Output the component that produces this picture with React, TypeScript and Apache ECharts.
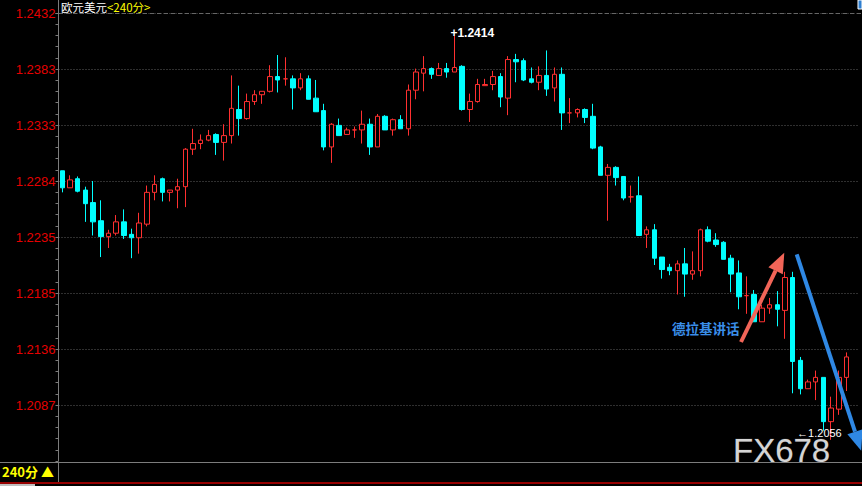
import React, { useEffect, useRef } from "react";
import * as echarts from "echarts";

// OHLC of each 240-minute EUR/USD candle
const opens = [
  1.2293, 1.2278, 1.2286, 1.2276, 1.2265, 1.2249, 1.2235, 1.2238, 1.2248, 1.2237,
  1.2234, 1.2246, 1.2274, 1.2286, 1.2274, 1.2276, 1.2279, 1.2312, 1.2317, 1.2320,
  1.2325, 1.2318, 1.2324, 1.2347, 1.2339, 1.2354, 1.2360, 1.2363, 1.2376, 1.2374,
  1.2374, 1.2366, 1.2374, 1.2357, 1.2346, 1.2314, 1.2333, 1.2325, 1.2329, 1.2329,
  1.2334, 1.2314, 1.2341, 1.2329, 1.2338, 1.2330, 1.2364, 1.2379, 1.2383, 1.2377,
  1.2383, 1.2380, 1.2385, 1.2347, 1.2354, 1.2368, 1.2369, 1.2376, 1.2357, 1.2391,
  1.2390, 1.2374, 1.2371, 1.2377, 1.2366, 1.2378, 1.2344, 1.2344, 1.2347, 1.2341,
  1.2314, 1.2289, 1.2296, 1.2288, 1.2270, 1.2271, 1.2237, 1.2241, 1.2217, 1.2208,
  1.2205, 1.2211, 1.2202, 1.2205, 1.2241, 1.2232, 1.2230, 1.2216, 1.2203, 1.2183,
  1.2184, 1.2160, 1.2172, 1.2175, 1.2170, 1.2199, 1.2126, 1.2101, 1.2107, 1.2111,
  1.2072, 1.2083, 1.2111,
];
const closes = [
  1.2278, 1.2285, 1.2275, 1.2264, 1.2248, 1.2235, 1.2238, 1.2248, 1.2236, 1.2234,
  1.2247, 1.2274, 1.2281, 1.2274, 1.2276, 1.2279, 1.2312, 1.2317, 1.2320, 1.2324,
  1.2318, 1.2324, 1.2348, 1.2339, 1.2354, 1.2360, 1.2363, 1.2376, 1.2373, 1.2374,
  1.2366, 1.2374, 1.2356, 1.2345, 1.2314, 1.2334, 1.2324, 1.2329, 1.2329, 1.2334,
  1.2314, 1.2341, 1.2329, 1.2338, 1.2330, 1.2364, 1.2380, 1.2383, 1.2378, 1.2383,
  1.2380, 1.2384, 1.2347, 1.2354, 1.2369, 1.2369, 1.2376, 1.2358, 1.2391, 1.2389,
  1.2373, 1.2371, 1.2377, 1.2365, 1.2378, 1.2344, 1.2344, 1.2347, 1.2340, 1.2313,
  1.2289, 1.2296, 1.2287, 1.2269, 1.2270, 1.2236, 1.2241, 1.2216, 1.2206, 1.2205,
  1.2211, 1.2202, 1.2205, 1.2241, 1.2231, 1.2228, 1.2215, 1.2202, 1.2182, 1.2183,
  1.2160, 1.2172, 1.2175, 1.2171, 1.2199, 1.2125, 1.2101, 1.2107, 1.2111, 1.2072,
  1.2084, 1.2111, 1.2129,
];
const lows = [
  1.2274, 1.2278, 1.2274, 1.2248, 1.2236, 1.2217, 1.2225, 1.2236, 1.2233, 1.2216,
  1.2220, 1.2244, 1.2267, 1.2266, 1.2266, 1.2260, 1.2261, 1.2307, 1.2312, 1.2319,
  1.2307, 1.2302, 1.2317, 1.2324, 1.2338, 1.2351, 1.2352, 1.2362, 1.2362, 1.2368,
  1.2347, 1.2364, 1.2356, 1.2345, 1.2311, 1.2300, 1.2324, 1.2325, 1.2322, 1.2317,
  1.2307, 1.2314, 1.2329, 1.2324, 1.2330, 1.2324, 1.2356, 1.2363, 1.2374, 1.2377,
  1.2375, 1.2380, 1.2346, 1.2336, 1.2353, 1.2368, 1.2364, 1.2349, 1.2342, 1.2371,
  1.2372, 1.2370, 1.2364, 1.2359, 1.2354, 1.2329, 1.2335, 1.2340, 1.2335, 1.2312,
  1.2289, 1.2249, 1.2280, 1.2267, 1.2265, 1.2236, 1.2225, 1.2210, 1.2198, 1.2201,
  1.2184, 1.2182, 1.2197, 1.2200, 1.2230, 1.2226, 1.2215, 1.2186, 1.2171, 1.2167,
  1.2160, 1.2160, 1.2167, 1.2156, 1.2145, 1.2097, 1.2096, 1.2101, 1.2091, 1.2064,
  1.2056, 1.2078, 1.2099,
];
const highs = [
  1.2293, 1.2289, 1.2288, 1.2279, 1.2284, 1.2267, 1.2241, 1.2254, 1.2259, 1.2242,
  1.2256, 1.2280, 1.2289, 1.2287, 1.2276, 1.2286, 1.2313, 1.2330, 1.2325, 1.2329,
  1.2326, 1.2334, 1.2377, 1.2368, 1.2361, 1.2364, 1.2363, 1.2386, 1.2395, 1.2393,
  1.2377, 1.2379, 1.2377, 1.2373, 1.2352, 1.2335, 1.2339, 1.2331, 1.2332, 1.2346,
  1.2339, 1.2343, 1.2342, 1.2339, 1.2342, 1.2369, 1.2383, 1.2394, 1.2384, 1.2388,
  1.2388, 1.2414, 1.2386, 1.2361, 1.2374, 1.2374, 1.2381, 1.2379, 1.2394, 1.2396,
  1.2392, 1.2384, 1.2385, 1.2399, 1.2384, 1.2384, 1.2357, 1.2348, 1.2348, 1.2352,
  1.2315, 1.2299, 1.2297, 1.2288, 1.2280, 1.2288, 1.2244, 1.2246, 1.2217, 1.2211,
  1.2214, 1.2225, 1.2222, 1.2242, 1.2244, 1.2238, 1.2231, 1.2219, 1.2214, 1.2200,
  1.2188, 1.2175, 1.2181, 1.2187, 1.2204, 1.2204, 1.2129, 1.2109, 1.2117, 1.2111,
  1.2094, 1.2117, 1.2133,
];
// one empty slot is left after the last candle
const categories = [...opens.map((_, i) => String(i + 1)), ""];

// price axis: the top line is 1.2432 and the lines are 1/252 of it apart
const yTop = 1.2432;
const yStep = yTop / 252;
const yBottom = yStep * 244;

const RED = "#ff3030";
const CYAN = "#00ffff";

export default function App() {
  const ref = useRef<HTMLDivElement>(null);

  useEffect(() => {
    document.body.style.margin = "0";
    document.body.style.background = "#000";
    const chart = echarts.init(ref.current!, null, { renderer: "svg" });

    const data = opens.map((o, i) => [o, closes[i], lows[i], highs[i]]);
    const hiVal = Math.max(...highs);
    const hiIdx = highs.indexOf(hiVal);
    const loVal = Math.min(...lows);
    const loIdx = lows.indexOf(loVal);

    chart.setOption({
      animation: false,
      backgroundColor: "#000000",
      grid: { left: 58.5, right: 4, top: 13, bottom: 25, containLabel: false },
      xAxis: {
        type: "category",
        data: categories,
        boundaryGap: true,
        show: false,
      },
      yAxis: {
        type: "value",
        min: yBottom,
        max: yTop,
        interval: yStep,
        position: "left",
        axisLine: { show: true, lineStyle: { color: "#7c7c7c", width: 1 } },
        axisTick: { show: true, length: 3, lineStyle: { color: "#7c7c7c" } },
        minorTick: { show: true, splitNumber: 5, length: 3, lineStyle: { color: "#7c7c7c" } },
        splitLine: {
          show: true,
          showMinLine: false,
          showMaxLine: false,
          lineStyle: { color: "#5e5e5e", type: [1, 2], width: 1 },
        },
        axisLabel: {
          color: "#e60000",
          fontSize: 13,
          fontFamily: "Liberation Sans, Arial, sans-serif",
          margin: 3,
          showMinLabel: false,
          formatter: (v: number) => v.toFixed(4),
        },
      },
      series: [
        {
          type: "candlestick",
          data,
          barWidth: 5,
          itemStyle: {
            color: "#000000",
            color0: CYAN,
            borderColor: RED,
            borderColor0: CYAN,
            borderColorDoji: RED,
            borderWidth: 1,
          },
          markPoint: {
            symbol: "circle",
            symbolSize: 0,
            silent: true,
            data: [
              {
                coord: [hiIdx, hiVal],
                label: {
                  show: true,
                  position: [-4, 0],
                  align: "left",
                  verticalAlign: "middle",
                  formatter: "+" + hiVal.toFixed(4),
                  color: "#ffffff",
                  fontWeight: "bold",
                  fontSize: 12,
                  fontFamily: "Liberation Sans, Arial, sans-serif",
                },
              },
              {
                coord: [loIdx, loVal],
                label: {
                  show: true,
                  position: [-34, -7],
                  align: "left",
                  verticalAlign: "middle",
                  formatter: "←" + loVal.toFixed(4),
                  color: "#ffffff",
                  fontSize: 11,
                  lineHeight: 11,
                  fontFamily: "Liberation Sans, Arial, sans-serif",
                },
              },
            ],
          },
        },
      ],
      graphic: [
        {
          type: "text",
          x: 61,
          y: 7,
          z: 50,
          style: {
            text: "{w|欧元美元}{y|<240分>}",
            verticalAlign: "middle",
            rich: {
              w: { fill: "#ffffff", fontSize: 11.5, fontFamily: "Noto Sans CJK SC" },
              y: { fill: "#ffff00", fontSize: 11.5, fontFamily: "Noto Sans CJK SC" },
            },
          },
        },
        { type: "line", z: 50, shape: { x1: 58.5, y1: 0, x2: 58.5, y2: 13 }, style: { stroke: "#7c7c7c", lineWidth: 1 } },
        { type: "line", z: 50, shape: { x1: 59, y1: 13.5, x2: 862, y2: 13.5 }, style: { stroke: "#666666", lineWidth: 1, lineDash: [4, 3] } },
        { type: "rect", z: 60, shape: { x: 0, y: 462, width: 862, height: 24 }, style: { fill: "#000000" } },
        { type: "line", z: 61, shape: { x1: 0, y1: 462.5, x2: 862, y2: 462.5 }, style: { stroke: "#7c7c7c", lineWidth: 1 } },
        { type: "line", z: 61, shape: { x1: 58.5, y1: 462, x2: 58.5, y2: 482 }, style: { stroke: "#7c7c7c", lineWidth: 1 } },
        { type: "line", z: 61, shape: { x1: 0, y1: 483, x2: 862, y2: 483 }, style: { stroke: "#c80000", lineWidth: 1.5 } },
        { type: "rect", z: 61, shape: { x: 0, y: 484, width: 35, height: 2 }, style: { fill: "#bdbdbd" } },
        {
          type: "text",
          x: 2,
          y: 471,
          z: 62,
          style: {
            text: "240分 ▲",
            fill: "#ffff00",
            fontSize: 13,
            fontWeight: "bold",
            fontFamily: "Noto Sans CJK SC",
            verticalAlign: "middle",
          },
        },
        {
          type: "text",
          x: 733,
          y: 450,
          z: 40,
          style: {
            text: "FX678",
            fill: "rgba(235,235,235,0.92)",
            fontSize: 33,
            lineHeight: 22,
            fontFamily: "Liberation Sans, Arial, sans-serif",
            verticalAlign: "middle",
            stroke: "rgba(60,60,60,0.6)",
            lineWidth: 1,
          },
        },
        // red arrow (rebound)
        { type: "line", z: 70, shape: { x1: 741, y1: 342, x2: 775.6, y2: 270.7 }, style: { stroke: "#f26558", lineWidth: 4 } },
        { type: "polygon", z: 70, shape: { points: [[784.3, 252.7], [768.4, 267.2], [782.8, 274.2]] }, style: { fill: "#f26558" } },
        // blue arrow (drop)
        { type: "line", z: 70, shape: { x1: 796.7, y1: 254.3, x2: 855, y2: 431.7 }, style: { stroke: "#2f88e4", lineWidth: 4 } },
        { type: "polygon", z: 70, shape: { points: [[861.2, 450.7], [847.4, 434.2], [862.6, 429.2]] }, style: { fill: "#2f88e4" } },
        {
          type: "text",
          x: 672,
          y: 328,
          z: 70,
          style: {
            text: "德拉基讲话",
            fill: "#3a8ee8",
            fontSize: 13.5,
            fontWeight: "bold",
            fontFamily: "Noto Sans CJK SC",
            verticalAlign: "middle",
          },
        },
        { type: "rect", z: 70, shape: { x: 858, y: 0, width: 4, height: 9 }, style: { fill: "#2f7fd0", stroke: "#ffffff", lineWidth: 1 } },
      ],
    });

    return () => chart.dispose();
  }, []);

  return (
    <div
      ref={ref}
      style={{ position: "fixed", left: 0, top: 0, width: 862, height: 486, background: "#000" }}
    />
  );
}
